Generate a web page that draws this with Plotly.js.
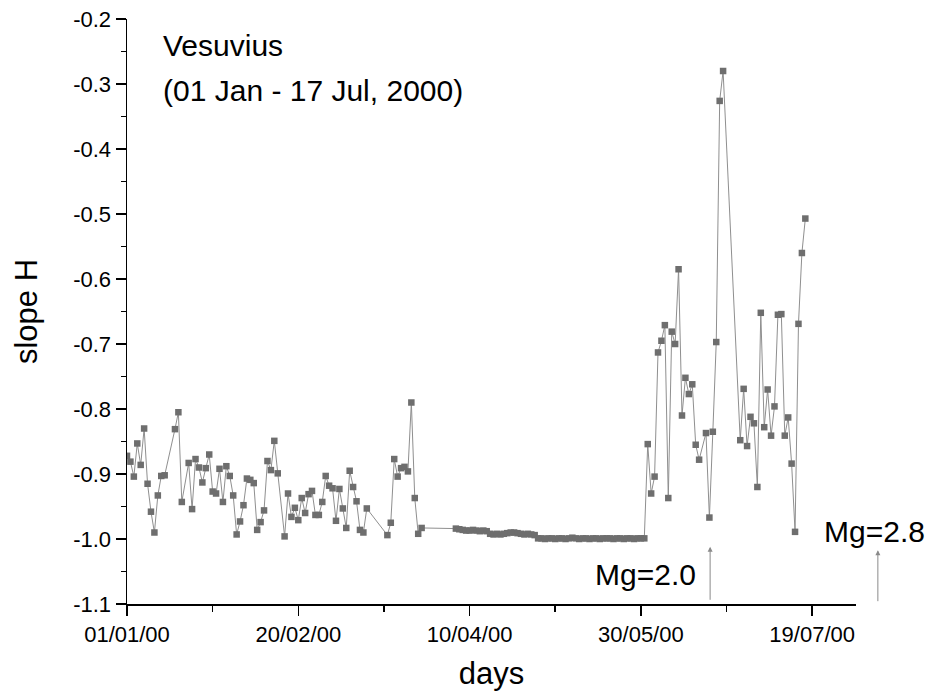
<!DOCTYPE html>
<html>
<head>
<meta charset="utf-8">
<script src="https://cdn.plot.ly/plotly-3.0.1.min.js"></script>
<style>html,body{margin:0;padding:0;background:#fff;}#chart{width:929px;height:695px;}</style>
</head>
<body>
<div id="chart"></div>
<script>
const dates = [
  '2000-01-01','2000-01-02','2000-01-03','2000-01-04','2000-01-05','2000-01-06','2000-01-07','2000-01-08','2000-01-09','2000-01-10',
  '2000-01-11','2000-01-12','2000-01-15','2000-01-16','2000-01-17','2000-01-19','2000-01-20','2000-01-21','2000-01-22','2000-01-23',
  '2000-01-24','2000-01-25','2000-01-26','2000-01-27','2000-01-28','2000-01-29','2000-01-30','2000-01-31','2000-02-01','2000-02-02',
  '2000-02-03','2000-02-04','2000-02-05','2000-02-06','2000-02-07','2000-02-08','2000-02-09','2000-02-10','2000-02-11','2000-02-12',
  '2000-02-13','2000-02-14','2000-02-16','2000-02-17','2000-02-18','2000-02-19','2000-02-20','2000-02-21','2000-02-22','2000-02-23',
  '2000-02-24','2000-02-25','2000-02-26','2000-02-27','2000-02-28','2000-02-29','2000-03-01','2000-03-02','2000-03-03','2000-03-04',
  '2000-03-05','2000-03-06','2000-03-07','2000-03-08','2000-03-09','2000-03-10','2000-03-11','2000-03-17','2000-03-18','2000-03-19',
  '2000-03-20','2000-03-21','2000-03-22','2000-03-23','2000-03-24','2000-03-25','2000-03-26','2000-03-27',
  '2000-04-06','2000-04-07','2000-04-08','2000-04-09','2000-04-10','2000-04-11','2000-04-12','2000-04-13','2000-04-14','2000-04-15',
  '2000-04-16','2000-04-17','2000-04-18','2000-04-19','2000-04-20','2000-04-21','2000-04-22','2000-04-23','2000-04-24','2000-04-25',
  '2000-04-26','2000-04-27','2000-04-28','2000-04-29','2000-04-30','2000-05-01','2000-05-02','2000-05-03','2000-05-04','2000-05-05',
  '2000-05-06','2000-05-07','2000-05-08','2000-05-09','2000-05-10','2000-05-11','2000-05-12','2000-05-13','2000-05-14','2000-05-15',
  '2000-05-16','2000-05-17','2000-05-18','2000-05-19','2000-05-20','2000-05-21','2000-05-22','2000-05-23','2000-05-24','2000-05-25',
  '2000-05-26','2000-05-27','2000-05-28','2000-05-29','2000-05-30','2000-05-31',
  '2000-06-01','2000-06-02','2000-06-03','2000-06-04','2000-06-05','2000-06-06','2000-06-07','2000-06-08','2000-06-09','2000-06-10',
  '2000-06-11','2000-06-12','2000-06-13','2000-06-14','2000-06-15','2000-06-16','2000-06-18','2000-06-19','2000-06-20','2000-06-21',
  '2000-06-22','2000-06-23','2000-06-28','2000-06-29','2000-06-30','2000-07-01','2000-07-02','2000-07-03','2000-07-04','2000-07-05',
  '2000-07-06','2000-07-07','2000-07-08','2000-07-09','2000-07-10','2000-07-11','2000-07-12','2000-07-13','2000-07-14','2000-07-15',
  '2000-07-16','2000-07-17'
];
const slopeH = [
  -0.872,-0.881,-0.904,-0.853,-0.886,-0.830,-0.915,-0.958,-0.990,-0.933,
  -0.903,-0.902,-0.831,-0.805,-0.943,-0.883,-0.954,-0.877,-0.890,-0.913,
  -0.891,-0.870,-0.927,-0.930,-0.892,-0.943,-0.888,-0.903,-0.933,-0.993,
  -0.973,-0.948,-0.907,-0.909,-0.914,-0.986,-0.974,-0.956,-0.880,-0.894,
  -0.849,-0.899,-0.996,-0.930,-0.966,-0.952,-0.971,-0.937,-0.960,-0.931,
  -0.926,-0.963,-0.963,-0.943,-0.903,-0.918,-0.922,-0.972,-0.923,-0.953,
  -0.983,-0.895,-0.920,-0.942,-0.986,-0.990,-0.953,-0.994,-0.975,-0.877,
  -0.904,-0.891,-0.889,-0.896,-0.790,-0.937,-0.992,-0.983,
  -0.984,-0.985,-0.986,-0.987,-0.987,-0.986,-0.987,-0.988,-0.987,-0.988,
  -0.992,-0.993,-0.992,-0.993,-0.992,-0.991,-0.990,-0.990,-0.991,-0.992,
  -0.993,-0.992,-0.993,-0.994,-0.999,-0.999,-1.000,-0.999,-0.999,-1.000,
  -0.999,-0.999,-1.000,-0.999,-0.998,-0.999,-1.000,-0.999,-0.999,-1.000,
  -0.999,-0.999,-1.000,-0.999,-0.999,-0.999,-1.000,-0.999,-0.999,-1.000,
  -0.999,-0.999,-1.000,-0.999,-0.999,-0.999,
  -0.854,-0.930,-0.904,-0.713,-0.695,-0.671,-0.937,-0.681,-0.700,-0.585,
  -0.810,-0.752,-0.777,-0.762,-0.855,-0.878,-0.837,-0.967,-0.835,-0.697,
  -0.326,-0.280,-0.848,-0.769,-0.857,-0.812,-0.822,-0.920,-0.652,-0.828,
  -0.770,-0.841,-0.796,-0.655,-0.654,-0.841,-0.813,-0.884,-0.989,-0.669,
  -0.560,-0.507
];
const xTick0 = '2000-01-01';
const xRange = ['2000-01-01', '2000-07-31 19:00'];
const yTickVals = [-1.1,-1.0,-0.9,-0.8,-0.7,-0.6,-0.5,-0.4,-0.3,-0.2];
const yTickText = ['-1.1','-1.0','-0.9','-0.8','-0.7','-0.6','-0.5','-0.4','-0.3','-0.2'];
const eventDate20 = '2000-06-19 05:00';

const DAY = 86400000;
const FONT = 'Liberation Sans, Arial, sans-serif';

const trace = {
  x: dates, y: slopeH, type: 'scatter', mode: 'lines+markers',
  line: {color: '#8f8f8f', width: 1},
  marker: {symbol: 'square', size: 6.5, color: '#6e6e6e'},
  hoverinfo: 'x+y'
};

const layout = {
  width: 929, height: 695,
  paper_bgcolor: '#ffffff', plot_bgcolor: '#ffffff',
  margin: {l: 127, r: 73, t: 19, b: 91},
  showlegend: false,
  font: {family: FONT, color: '#000', size: 22},
  xaxis: {
    type: 'date', range: xRange, tickmode: 'linear', tick0: xTick0, dtick: 50 * DAY,
    tickformat: '%d/%m/%y', ticks: 'outside', ticklen: 10, tickwidth: 1.5, tickcolor: '#000',
    showline: true, linecolor: '#000', linewidth: 1.5, showgrid: false, zeroline: false,
    minor: {dtick: 25 * DAY, ticks: 'outside', ticklen: 6, tickwidth: 1.5, tickcolor: '#000', showgrid: false},
    tickfont: {family: FONT, size: 22, color: '#000'},
    title: {text: 'days', font: {family: FONT, size: 31, color: '#000'}, standoff: 16}
  },
  yaxis: {
    range: [-1.1, -0.2], tickmode: 'array', tickvals: yTickVals, ticktext: yTickText,
    ticks: 'outside', ticklen: 10, tickwidth: 1.5, tickcolor: '#000',
    showline: true, linecolor: '#000', linewidth: 1.5, showgrid: false, zeroline: false,
    minor: {tickmode: 'linear', tick0: -1.1, dtick: 0.05, ticks: 'outside', ticklen: 5, tickwidth: 1.5, tickcolor: '#000', showgrid: false},
    tickfont: {family: FONT, size: 22, color: '#000'},
    title: {text: 'slope H', font: {family: FONT, size: 31, color: '#000'}, standoff: 26}
  },
  annotations: [
    {xref: 'paper', yref: 'paper', x: 0.046, y: 0.954, xanchor: 'left', yanchor: 'middle', showarrow: false,
     text: 'Vesuvius', font: {family: FONT, size: 30, color: '#000'}},
    {xref: 'paper', yref: 'paper', x: 0.046, y: 0.877, xanchor: 'left', yanchor: 'middle', showarrow: false,
     text: '(01 Jan - 17 Jul, 2000)', font: {family: FONT, size: 30, color: '#000'}},
    {xref: 'paper', yref: 'paper', x: 0.711, y: 0.050, xanchor: 'center', yanchor: 'middle', showarrow: false,
     text: 'Mg=2.0', font: {family: FONT, size: 30, color: '#000'}},
    {xref: 'paper', yref: 'paper', x: 1.026, y: 0.124, xanchor: 'center', yanchor: 'middle', showarrow: false,
     text: 'Mg=2.8', font: {family: FONT, size: 30, color: '#000'}},
    {xref: 'x', yref: 'y', x: eventDate20, y: -1.012, text: ' ', font: {size: 1},
     showarrow: true, arrowhead: 2, arrowsize: 1, arrowwidth: 1, arrowcolor: '#8a8a8a', ax: 0, ay: 55, standoff: 0},
    {xref: 'paper', yref: 'paper', x: 1.030, y: 0.092, text: ' ', font: {size: 1},
     showarrow: true, arrowhead: 2, arrowsize: 1, arrowwidth: 1, arrowcolor: '#8a8a8a', ax: 0, ay: 53, standoff: 0}
  ]
};

Plotly.newPlot('chart', [trace], layout, {displayModeBar: false, staticPlot: true});
</script>
</body>
</html>
